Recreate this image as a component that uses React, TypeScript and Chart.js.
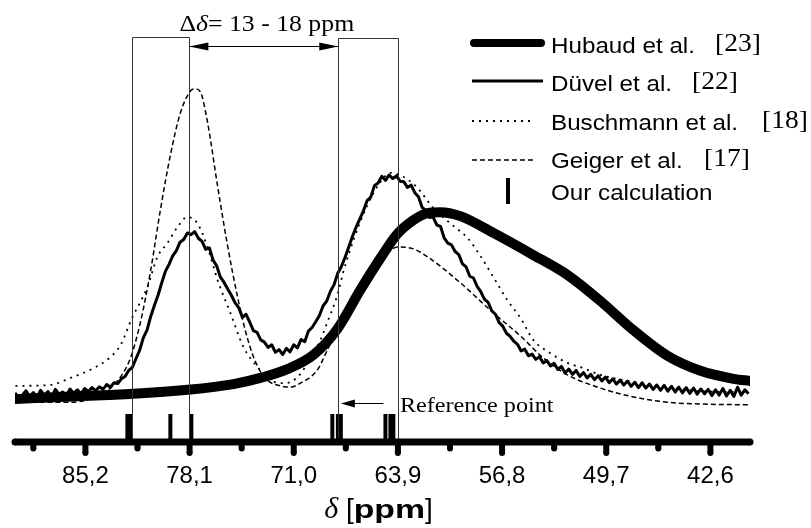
import { useEffect, useRef } from "react";
import { Chart, registerables } from "chart.js";

Chart.register(...registerables);

// ---------- axis ----------
const X_MAX = 90.0;
const X_MIN = 39.9;
const majorTicks = [85.2, 78.1, 71.0, 63.9, 56.8, 49.7, 42.6];
const minorTicks = [88.75, 81.65, 74.55, 67.45, 60.35, 53.25, 46.15];

// ---------- Hubaud et al. [23] (thick) ----------
const hubPpm = [89.97, 86.9, 81.93, 78.25, 75.11, 73.27, 71.43, 69.66, 68.02, 66.46, 65.09, 63.93, 62.84, 61.89, 61.0, 59.64, 57.39, 54.67, 52.35, 50.1, 47.85, 45.53, 43.28, 41.03, 39.88];
const hubInt = [9.7, 10.2, 10.9, 11.8, 13.1, 14.5, 16.5, 19.7, 25.6, 34.4, 41.6, 47.1, 50.2, 51.8, 52.0, 51.1, 47.3, 42.3, 37.8, 31.9, 25.3, 19.5, 16.1, 14.3, 13.8];

// ---------- Düvel et al. [22] (solid, noisy) ----------
const dvPpm = [
  90.0, 89.75, 89.5, 89.25, 89.0, 88.75, 88.5, 88.25, 88.0, 87.75, 87.5, 87.25, 87.0, 86.75, 86.5, 86.25, 86.0, 85.75, 85.5, 85.25,
  85.0, 84.75, 84.5, 84.25, 84.0, 83.75, 83.5, 83.25, 83.0, 82.75, 82.5, 82.25, 82.0, 81.75, 81.5, 81.25, 81.0, 80.75, 80.5, 80.25,
  80.0, 79.75, 79.5, 79.25, 79.0, 78.75, 78.5, 78.25, 78.0, 77.75, 77.5, 77.25, 77.0, 76.75, 76.5, 76.25, 76.0, 75.75, 75.5, 75.25,
  75.0, 74.75, 74.5, 74.25, 74.0, 73.75, 73.5, 73.25, 73.0, 72.75, 72.5, 72.25, 72.0, 71.75, 71.5, 71.25, 71.0, 70.75, 70.5, 70.25,
  70.0, 69.75, 69.5, 69.25, 69.0, 68.75, 68.5, 68.25, 68.0, 67.75, 67.5, 67.25, 67.0, 66.75, 66.5, 66.25, 66.0, 65.75, 65.5, 65.25,
  65.0, 64.75, 64.5, 64.25, 64.0, 63.75, 63.5, 63.25, 63.0, 62.75, 62.5, 62.25, 62.0, 61.75, 61.5, 61.25, 61.0, 60.75, 60.5, 60.25,
  60.0, 59.75, 59.5, 59.25, 59.0, 58.75, 58.5, 58.25, 58.0, 57.75, 57.5, 57.25, 57.0, 56.75, 56.5, 56.25, 56.0, 55.75, 55.5, 55.25,
  55.0, 54.75, 54.5, 54.25, 54.0, 53.75, 53.5, 53.25, 53.0, 52.75, 52.5, 52.25, 52.0, 51.75, 51.5, 51.25, 51.0, 50.75, 50.5, 50.25,
  50.0, 49.75, 49.5, 49.25, 49.0, 48.75, 48.5, 48.25, 48.0, 47.75, 47.5, 47.25, 47.0, 46.75, 46.5, 46.25, 46.0, 45.75, 45.5, 45.25,
  45.0, 44.75, 44.5, 44.25, 44.0, 43.75, 43.5, 43.25, 43.0, 42.75, 42.5, 42.25, 42.0, 41.75, 41.5, 41.25, 41.0, 40.75, 40.5, 40.25,
  40.0,
];
const dvInt = [
  11.1, 10.0, 10.6, 11.6, 10.3, 11.2, 10.1, 11.7, 10.6, 11.4, 10.2, 11.9, 10.8, 11.3, 10.4, 12.0, 11.0, 11.8, 10.9, 12.1,
  11.4, 12.3, 11.6, 12.5, 11.9, 13.0, 12.4, 13.4, 13.2, 14.3, 14.8, 16.2, 16.9, 18.9, 20.8, 23.6, 25.3, 28.4, 30.9, 33.2,
  36.0, 38.6, 40.2, 42.1, 43.3, 45.2, 45.8, 47.3, 46.9, 47.6, 46.1, 45.4, 43.6, 43.9, 41.2, 39.8, 37.3, 36.1, 34.6, 33.2,
  31.5, 30.4, 28.2, 28.9, 27.1, 25.2, 24.8, 23.1, 22.6, 21.4, 22.0, 20.3, 20.9, 19.8, 21.2, 20.4, 22.0, 21.3, 23.2, 22.7,
  25.1, 25.9, 27.2, 28.6, 30.8, 31.9, 34.1, 35.6, 38.2, 39.7, 41.8, 44.1, 46.5, 48.6, 50.4, 52.3, 54.6, 55.4, 58.0, 58.6,
  60.1, 59.2, 60.4, 59.6, 60.2, 59.0, 58.9, 57.6, 58.1, 56.4, 55.5, 53.1, 52.4, 50.8, 50.9, 49.1, 48.8, 46.2, 45.0, 44.6,
  43.1, 42.4, 40.3, 39.6, 37.5, 37.1, 35.2, 34.0, 32.3, 31.6, 29.7, 28.9, 27.0, 26.2, 24.6, 23.9, 22.8, 22.1, 20.6, 21.0,
  19.5, 19.9, 18.7, 19.3, 17.9, 18.4, 17.2, 17.8, 16.4, 17.1, 15.6, 16.5, 15.3, 16.2, 14.8, 15.7, 14.5, 15.3, 14.1, 15.0,
  13.8, 14.7, 13.4, 14.3, 13.1, 14.0, 12.9, 13.8, 12.6, 13.5, 12.3, 13.4, 12.2, 13.1, 11.9, 12.9, 11.7, 12.8, 11.5, 12.6,
  11.3, 12.4, 11.1, 12.3, 11.0, 12.2, 10.8, 12.0, 10.9, 11.9, 10.5, 11.8, 10.6, 12.1, 10.4, 11.7, 10.3, 12.4, 10.6, 11.8,
  10.9,
];

// ---------- Buschmann et al. [18] (dotted) ----------
const buPpm = [89.97, 87.59, 86.22, 84.65, 83.5, 82.81, 81.99, 81.45, 80.97, 80.29, 79.61, 78.93, 78.25, 77.57, 76.88, 76.2, 75.32, 74.43, 73.48, 72.59, 71.57, 70.68, 69.86, 69.18, 68.71, 68.02, 67.62, 66.93, 65.98, 65.09, 64.41, 63.53, 62.57, 61.48, 60.12, 59.16, 58.28, 57.39, 56.44, 55.55, 54.67, 53.51, 52.35, 51.26, 50.1, 47.85, 45.53, 43.28, 39.88];
const buInt = [12.7, 12.9, 14.5, 16.7, 19.2, 21.9, 28.3, 31.7, 35.1, 41.9, 45.0, 48.6, 50.9, 49.5, 44.1, 36.7, 29.2, 21.5, 17.0, 14.0, 13.3, 14.9, 19.0, 23.1, 27.1, 33.3, 38.5, 45.7, 53.6, 58.8, 60.9, 60.0, 57.5, 52.9, 48.9, 46.2, 42.1, 37.3, 32.1, 28.1, 23.1, 20.1, 17.9, 16.7, 15.2, 13.6, 12.4, 11.5, 11.3];

// ---------- Geiger et al. [17] (dashed) ----------
const gePpm = [89.97, 86.22, 84.38, 83.02, 82.13, 81.45, 80.77, 80.09, 79.41, 78.73, 78.04, 77.7, 77.36, 76.88, 76.2, 75.52, 74.84, 74.16, 73.48, 72.8, 71.91, 71.23, 70.55, 69.39, 68.71, 67.82, 66.46, 65.09, 63.93, 63.05, 61.89, 59.64, 57.39, 55.55, 53.98, 52.35, 50.1, 47.85, 45.53, 43.28, 39.88];
const geInt = [9.0, 9.0, 10.4, 13.8, 19.0, 27.1, 38.5, 52.5, 64.9, 74.4, 79.4, 79.9, 79.2, 72.4, 58.1, 44.6, 33.0, 23.5, 17.2, 14.0, 12.7, 12.4, 13.3, 16.3, 20.8, 27.1, 34.4, 40.7, 44.1, 43.9, 41.9, 36.0, 29.2, 24.0, 19.0, 15.2, 12.2, 10.2, 9.0, 8.6, 8.4];

// ---------- Our calculation (stick positions) ----------
const calcPpm = [82.34, 82.13, 79.41, 77.98, 68.37, 67.99, 67.79, 64.75, 64.41, 64.21];
const calcLevel = 3.4;

// ---------- annotations ----------
const rectLeft = [82.0, 78.15];
const rectRight = [68.0, 63.9];
const rectTopLeft = 91.6;
const rectTopRight = 91.3;
const deltaArrowLevel = 89.6;
const refArrow = [64.89, 67.82];
const refArrowLevel = 8.8;
const refLabelLevel = 6.8;

const legendNames = ["Hubaud et al.", "Düvel et al.", "Buschmann et al.", "Geiger et al.", "Our calculation"];
const legendRefs = ["[23]", "[22]", "[18]", "[17]", ""];

const SANS = "'Liberation Sans', Arial, Helvetica, sans-serif";
const SERIF = "'Liberation Serif', 'Times New Roman', Times, serif";

const pts = (xs: number[], ys: number[]) => xs.map((x, i) => ({ x, y: ys[i] }));

function sText(ctx: CanvasRenderingContext2D, text: string, x: number, y: number, font: string, sx: number) {
  ctx.save();
  ctx.font = font;
  ctx.textAlign = "left";
  ctx.textBaseline = "alphabetic";
  const w = ctx.measureText(text).width * sx;
  ctx.translate(x, y);
  ctx.scale(sx, 1);
  ctx.fillStyle = "#000";
  ctx.fillText(text, 0, 0);
  ctx.restore();
  return w;
}

function measure(ctx: CanvasRenderingContext2D, text: string, font: string, sx: number) {
  ctx.save();
  ctx.font = font;
  const w = ctx.measureText(text).width * sx;
  ctx.restore();
  return w;
}

function arrowHead(ctx: CanvasRenderingContext2D, tipX: number, y: number, dir: number, len: number, half: number) {
  ctx.beginPath();
  ctx.moveTo(tipX, y);
  ctx.lineTo(tipX - dir * len, y - half);
  ctx.lineTo(tipX - dir * len, y + half);
  ctx.closePath();
  ctx.fill();
}

function tickMark(ctx: CanvasRenderingContext2D, x: number, base: number, len: number, w: number) {
  ctx.fillRect(x - w / 2, base, w, len);
  ctx.beginPath();
  ctx.arc(x, base + len, w / 2, 0, Math.PI * 2);
  ctx.fill();
}

const decorPlugin = {
  id: "decor",
  afterDraw(chart: any) {
    const ctx: CanvasRenderingContext2D = chart.ctx;
    const xs = chart.scales.x;
    const ys = chart.scales.y;
    const base = chart.chartArea.bottom;
    ctx.save();
    ctx.setLineDash([]);
    ctx.fillStyle = "#000";

    // rectangles
    ctx.strokeStyle = "#333";
    ctx.lineWidth = 1;
    const rect = (r: number[], top: number) => {
      const a = Math.round(xs.getPixelForValue(r[0])) + 0.5;
      const b = Math.round(xs.getPixelForValue(r[1])) + 0.5;
      const t = Math.round(ys.getPixelForValue(top)) + 0.5;
      ctx.beginPath();
      ctx.moveTo(a, base);
      ctx.lineTo(a, t);
      ctx.lineTo(b, t);
      ctx.lineTo(b, base);
      ctx.stroke();
    };
    rect(rectLeft, rectTopLeft);
    rect(rectRight, rectTopRight);

    // delta arrow
    const ax1 = xs.getPixelForValue(rectLeft[1]) + 0.5;
    const ax2 = xs.getPixelForValue(rectRight[0]) + 0.5;
    const ay = Math.round(ys.getPixelForValue(deltaArrowLevel)) + 0.5;
    ctx.strokeStyle = "#000";
    ctx.beginPath();
    ctx.moveTo(ax1, ay);
    ctx.lineTo(ax2, ay);
    ctx.stroke();
    arrowHead(ctx, ax1, ay, -1, 19, 4);
    arrowHead(ctx, ax2, ay, 1, 19, 4);

    // delta label
    {
      const f1 = `23px ${SERIF}`;
      const f2 = `italic 23px ${SERIF}`;
      const sx = 1.12;
      const parts: [string, string][] = [["Δ", f1], ["δ", f2], ["= 13 - 18 ppm", f1]];
      const total = parts.reduce((s, p) => s + measure(ctx, p[0], p[1], sx), 0);
      let x = (ax1 + ax2) / 2 + 3 - total / 2;
      for (const p of parts) x += sText(ctx, p[0], x, 31, p[1], sx);
    }

    // reference point arrow + label
    {
      const tx = xs.getPixelForValue(refArrow[0]);
      const hx = xs.getPixelForValue(refArrow[1]) + 0.5;
      const y = Math.round(ys.getPixelForValue(refArrowLevel)) + 0.5;
      ctx.beginPath();
      ctx.moveTo(tx, y);
      ctx.lineTo(hx + 8, y);
      ctx.stroke();
      arrowHead(ctx, hx, y, -1, 14, 4);
      const lx = xs.getPixelForValue(rectRight[1]) + 2;
      sText(ctx, "Reference point", lx, ys.getPixelForValue(refLabelLevel), `21px ${SERIF}`, 1.15);
    }

    // x axis line (rounded ends)
    ctx.fillStyle = "#000";
    ctx.fillRect(xs.left, base - 3.5, xs.right - xs.left, 7);
    ctx.beginPath();
    ctx.arc(xs.left, base, 3.5, 0, Math.PI * 2);
    ctx.fill();
    ctx.beginPath();
    ctx.arc(xs.right, base, 3.5, 0, Math.PI * 2);
    ctx.fill();
    // tick marks: major long, minor short, rounded tips
    for (const v of majorTicks) tickMark(ctx, xs.getPixelForValue(v), base, 11, 6);
    for (const v of minorTicks) tickMark(ctx, xs.getPixelForValue(v), base, 6.5, 6);

    // axis title: δ [ppm]
    {
      const parts: [string, string, number][] = [
        ["δ", `italic 30px ${SERIF}`, 1.0],
        [" [", `28px ${SANS}`, 1.0],
        ["ppm", `bold 26px ${SANS}`, 1.3],
        ["]", `28px ${SANS}`, 1.0],
      ];
      const total = parts.reduce((s, p) => s + measure(ctx, p[0], p[1], p[2]), 0);
      let x = (xs.left + xs.right) / 2 - 4 - total / 2;
      for (const p of parts) x += sText(ctx, p[0], x, 518, p[1], p[2]);
    }

    // legend
    const ds = chart.data.datasets;
    const rowsBase = [53, 91, 130, 168, 200];
    const refX = [715, 692, 762, 704, 0];
    const lineY = [43, 81, 121, 160];
    const lineX: number[][] = [[474, 541], [472, 543], [472, 535], [472, 535]];
    for (let i = 0; i < 4; i++) {
      const d = ds[i];
      ctx.save();
      ctx.strokeStyle = d.borderColor;
      ctx.lineWidth = i === 0 ? 8 : d.borderWidth;
      ctx.setLineDash(d.borderDash || []);
      ctx.lineCap = i === 0 ? "round" : "butt";
      ctx.beginPath();
      ctx.moveTo(lineX[i][0], lineY[i]);
      ctx.lineTo(lineX[i][1], lineY[i]);
      ctx.stroke();
      ctx.restore();
    }
    ctx.fillRect(506, 178, 4, 26);
    for (let i = 0; i < legendNames.length; i++) {
      sText(ctx, legendNames[i], 551, rowsBase[i], `22px ${SANS}`, 1.1);
      if (legendRefs[i]) sText(ctx, legendRefs[i], refX[i], rowsBase[i] - 2, `25px ${SERIF}`, 1.1);
    }
    ctx.restore();
  },
};

export default function App() {
  const ref = useRef<HTMLCanvasElement>(null);
  useEffect(() => {
    const canvas = ref.current!;
    const chart = new Chart(canvas, {
      type: "scatter",
      data: {
        datasets: [
          {
            label: legendNames[0],
            data: pts(hubPpm, hubInt),
            showLine: true,
            borderColor: "#000",
            backgroundColor: "#000",
            borderWidth: 10,
            pointRadius: 0,
            pointHoverRadius: 0,
            cubicInterpolationMode: "monotone",
            borderCapStyle: "round",
            borderJoinStyle: "round",
          },
          {
            label: legendNames[1],
            data: pts(dvPpm, dvInt),
            showLine: true,
            borderColor: "#000",
            backgroundColor: "#000",
            borderWidth: 3,
            pointRadius: 0,
            pointHoverRadius: 0,
            tension: 0,
            borderJoinStyle: "round",
          },
          {
            label: legendNames[2],
            data: pts(buPpm, buInt),
            showLine: true,
            borderColor: "#000",
            backgroundColor: "#000",
            borderWidth: 1.8,
            borderDash: [2, 5],
            pointRadius: 0,
            pointHoverRadius: 0,
            cubicInterpolationMode: "monotone",
          },
          {
            label: legendNames[3],
            data: pts(gePpm, geInt),
            showLine: true,
            borderColor: "#000",
            backgroundColor: "#000",
            borderWidth: 1.5,
            borderDash: [5, 3],
            pointRadius: 0,
            pointHoverRadius: 0,
            cubicInterpolationMode: "monotone",
          },
          {
            label: legendNames[4],
            data: calcPpm.map((x) => ({ x, y: calcLevel })),
            showLine: false,
            borderColor: "#000",
            backgroundColor: "#000",
            borderWidth: 4,
            pointStyle: "line",
            pointRotation: 90,
            pointRadius: 13,
            pointHoverRadius: 13,
            clip: false,
          },
        ],
      } as any,
      options: {
        animation: false,
        responsive: false,
        devicePixelRatio: 1,
        layout: { autoPadding: false, padding: { left: 15, right: 61, top: 0, bottom: 0 } },
        plugins: { legend: { display: false }, tooltip: { enabled: false } },
        scales: {
          x: {
            type: "linear",
            reverse: true,
            min: X_MIN,
            max: X_MAX,
            position: "bottom",
            afterBuildTicks: (s: any) => {
              s.ticks = majorTicks.map((v) => ({ value: v }));
            },
            afterFit: (s: any) => {
              s.height = 86;
            },
            grid: { display: false, drawTicks: false },
            border: { display: false },
            ticks: {
              padding: 20,
              color: "#000",
              autoSkip: false,
              maxRotation: 0,
              font: { family: SANS, size: 24 },
              callback: (v: any) => Number(v).toFixed(1).replace(".", ","),
            },
          },
          y: { type: "linear", min: 0, max: 100, display: false },
        },
      } as any,
      plugins: [decorPlugin],
    });
    return () => chart.destroy();
  }, []);
  return (
    <div style={{ position: "absolute", left: 0, top: 0, width: 811, height: 528, background: "#fff" }}>
      <canvas ref={ref} width={811} height={528} style={{ display: "block", width: 811, height: 528 }} />
    </div>
  );
}
